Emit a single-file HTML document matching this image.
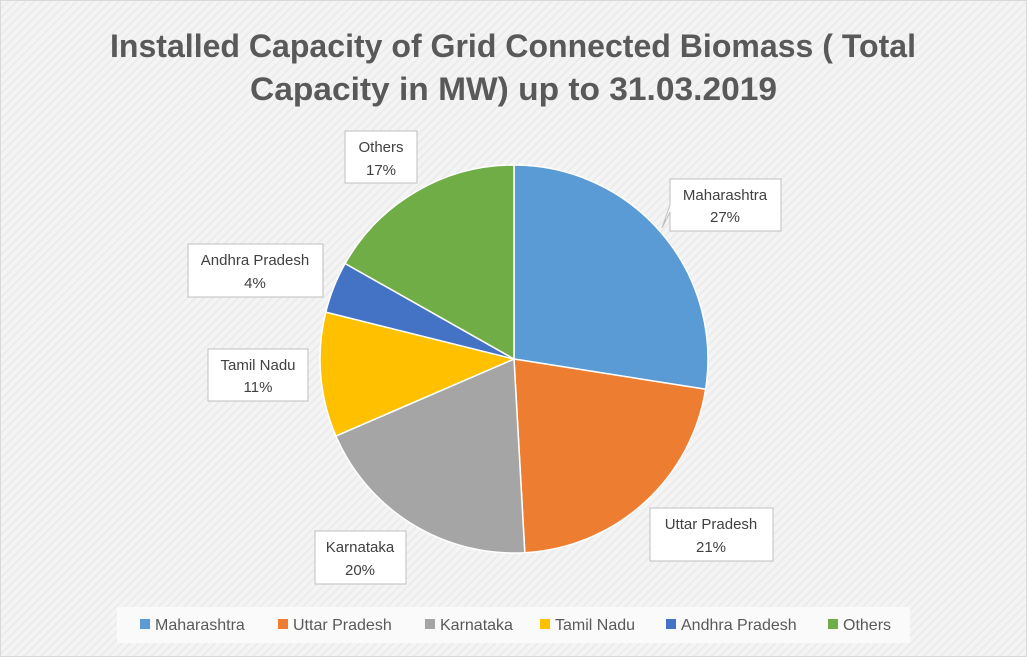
<!DOCTYPE html>
<html><head><meta charset="utf-8"><style>
body{margin:0;width:1027px;height:657px;overflow:hidden;background:#fff}
</style></head><body>
<svg width="1027" height="657" viewBox="0 0 1027 657" xmlns="http://www.w3.org/2000/svg" font-family="Liberation Sans, sans-serif">
<defs>
<pattern id="st" width="6" height="6" patternUnits="userSpaceOnUse" patternTransform="rotate(-45)">
<rect width="6" height="6" fill="#f4f4f4"/><rect width="6" height="2" fill="#ececec"/>
</pattern>
</defs>
<rect x="0.5" y="0.5" width="1026" height="656" fill="url(#st)" stroke="#d9d9d9"/>
<g font-weight="bold" font-size="32" fill="#595959">
<text x="110" y="57" textLength="806" lengthAdjust="spacingAndGlyphs">Installed Capacity of Grid Connected Biomass ( Total</text>
<text x="250" y="100" textLength="527" lengthAdjust="spacingAndGlyphs">Capacity in MW) up to 31.03.2019</text>
</g>
<g stroke="#fff" stroke-width="1.5">
<path d="M514,359 L514,165 A194,194 0 0 1 705.6,389.3 Z" fill="#5b9bd5"/>
<path d="M514,359 L705.6,389.3 A194,194 0 0 1 524.8,552.7 Z" fill="#ed7d31"/>
<path d="M514,359 L524.8,552.7 A194,194 0 0 1 335.9,436 Z" fill="#a5a5a5"/>
<path d="M514,359 L335.9,436 A194,194 0 0 1 325.8,312.1 Z" fill="#ffc000"/>
<path d="M514,359 L325.8,312.1 A194,194 0 0 1 345.1,263.5 Z" fill="#4472c4"/>
<path d="M514,359 L345.1,263.5 A194,194 0 0 1 514,165 Z" fill="#70ad47"/>
</g>
<g fill="#fff" stroke="#bfbfbf" stroke-width="1">
<path d="M670,179 H781 V231 H670 V212 L662,228 L670,205 Z"/>
<path d="M650,508 H773 V561 H650 Z"/>
<path d="M315,531 H406 V584 H315 Z"/>
<path d="M208,349 H308 V401 H208 Z"/>
<path d="M188,244 H323 V297 H188 Z"/>
<path d="M345,131 H417 V183 H345 Z"/>
</g>
<g font-size="15" fill="#404040" text-anchor="middle">
<text x="725" y="200">Maharashtra</text><text x="725" y="222">27%</text>
<text x="711" y="529">Uttar Pradesh</text><text x="711" y="552">21%</text>
<text x="360" y="552">Karnataka</text><text x="360" y="575">20%</text>
<text x="258" y="370">Tamil Nadu</text><text x="258" y="392">11%</text>
<text x="255" y="265">Andhra Pradesh</text><text x="255" y="288">4%</text>
<text x="381" y="152">Others</text><text x="381" y="175">17%</text>
</g>
<rect x="117" y="607" width="793" height="36" fill="#fafafa"/>
<g font-size="16" fill="#595959">
<rect x="140" y="619" width="10" height="10" fill="#5b9bd5"/><text x="155" y="630">Maharashtra</text>
<rect x="278" y="619" width="10" height="10" fill="#ed7d31"/><text x="293" y="630">Uttar Pradesh</text>
<rect x="425" y="619" width="10" height="10" fill="#a5a5a5"/><text x="440" y="630">Karnataka</text>
<rect x="540" y="619" width="10" height="10" fill="#ffc000"/><text x="555" y="630">Tamil Nadu</text>
<rect x="666" y="619" width="10" height="10" fill="#4472c4"/><text x="681" y="630">Andhra Pradesh</text>
<rect x="828" y="619" width="10" height="10" fill="#70ad47"/><text x="843" y="630">Others</text>
</g>
</svg>
</body></html>
